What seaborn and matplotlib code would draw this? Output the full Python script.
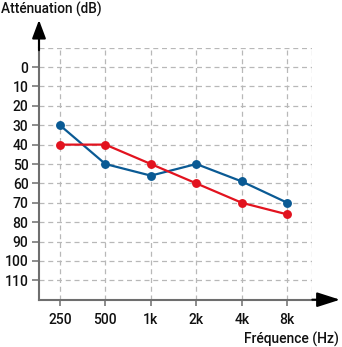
import matplotlib
matplotlib.use("Agg")
import matplotlib.pyplot as plt
import seaborn as sns
import pandas as pd

# Audiogram data: attenuation in dB per test frequency
frequencies = ["250", "500", "1k", "2k", "4k", "8k"]
blue_db = [30, 50, 56, 50, 59, 70]
red_db = [40, 40, 50, 60, 70, 76]
y_ticks = [0, 10, 20, 30, 40, 50, 60, 70, 80, 90, 100, 110]

BLUE = "#0a5a94"
RED = "#e2131f"
AXIS = "#6e6e6e"
GRID = "#b8b8b8"
TEXT = "#111111"
WEIGHT = "medium"

sns.set_theme(style="white")
plt.rcParams["font.family"] = ["Roboto", "DejaVu Sans"]

df = pd.DataFrame({
    "pos": list(range(len(frequencies))) * 2,
    "db": blue_db + red_db,
    "serie": ["bleu"] * len(blue_db) + ["rouge"] * len(red_db),
})

fig = plt.figure(figsize=(3.42, 3.47), dpi=100)
W, H = 342, 347
left, right, top, bottom = 39, 312.3, 47.7, 299.7
ax = fig.add_axes([left / W, (H - bottom) / H, (right - left) / W, (bottom - top) / H])

sns.lineplot(data=df, x="pos", y="db", hue="serie", palette={"bleu": BLUE, "rouge": RED},
             marker="o", markersize=6.4, markeredgewidth=0, linewidth=1.6,
             legend=False, ax=ax, zorder=3)

ax.set_xlim(-0.46, 5.55)
ax.set_ylim(120, -10)
ax.set_xticks(range(len(frequencies)))
ax.set_xticklabels(frequencies)
ax.set_yticks(y_ticks)
ax.set_yticklabels([str(v) for v in y_ticks])
ax.set_xlabel("")
ax.set_ylabel("")

# dashed grid, including the closing lines on top and right
dash = (0, (4, 3))
ax.grid(True, color=GRID, linestyle=dash, linewidth=0.9)
ax.axhline(-10, color=GRID, linestyle=dash, linewidth=0.9, zorder=1)
ax.axvline(5.55, color=GRID, linestyle=dash, linewidth=0.9, zorder=1)
for s in ["top", "right"]:
    ax.spines[s].set_visible(False)
for s in ["left", "bottom"]:
    ax.spines[s].set_color(AXIS)
    ax.spines[s].set_linewidth(1.5)

ax.tick_params(axis="both", colors=AXIS, labelcolor=TEXT, labelsize=10, width=1.1)
ax.tick_params(axis="y", length=5, pad=2.5, direction="out", left=True)
ax.tick_params(axis="x", length=4.5, pad=5, direction="out", bottom=True)
for lab in ax.get_xticklabels() + ax.get_yticklabels():
    lab.set_fontweight(WEIGHT)

# arrow-headed axes
ax_h = bottom - top
ax_w = right - left
ax.annotate("", xy=(0, 1 + (top - 20) / ax_h), xytext=(0, 0.99), xycoords="axes fraction",
            arrowprops=dict(arrowstyle="-|>,head_length=0.8,head_width=0.3", color="black",
                            lw=1.5, shrinkA=0, shrinkB=0, mutation_scale=14),
            annotation_clip=False)
ax.plot([0, 0], [1, 1 + (top - 34) / ax_h], color=AXIS, lw=1.5, transform=ax.transAxes, clip_on=False)
ax.annotate("", xy=(1 + (340 - right) / ax_w, 0), xytext=(1.0, 0), xycoords="axes fraction",
            arrowprops=dict(arrowstyle="-|>,head_length=1.0,head_width=0.32", color="black",
                            lw=1.5, shrinkA=0, shrinkB=0, mutation_scale=14),
            annotation_clip=False)
ax.plot([1, 1 + (326 - right) / ax_w], [0, 0], color=AXIS, lw=1.5, transform=ax.transAxes, clip_on=False)

fig.text(1 / W, 1 - 2 / H, "Atténuation (dB)", ha="left", va="top", fontsize=9.8,
         fontweight=WEIGHT, color=TEXT)
fig.text(339 / W, 1 - 344 / H, "Fréquence (Hz)", ha="right", va="baseline", fontsize=10,
         fontweight=WEIGHT, color=TEXT)

fig.savefig("out.png", dpi=100)
